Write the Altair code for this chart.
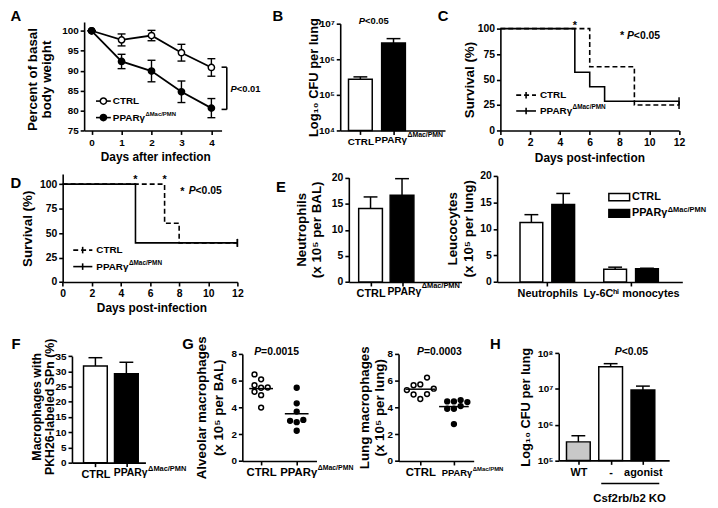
import altair as alt
import pandas as pd

FONT = "Liberation Sans"
W, H = 710, 500
M = 8

# ---------------- data ----------------
# A: body weight (% of basal)
a_days = [0, 1, 2, 3, 4]
a_ctrl = [100, 97.7, 98.8, 94.5, 90.8]
a_ctrl_sem = [0, 1.5, 1.3, 2.1, 2.2]
a_ppar = [100, 92.3, 89.9, 84.7, 80.6]
a_ppar_sem = [0, 1.8, 2.7, 2.7, 2.4]

# B: CFU per lung
b_cfu = [2.75e5, 2.85e6]
b_cfu_err = [0.45e5, 0.95e6]

# C: survival
c_ctrl_days = [0, 6, 9, 12]
c_ctrl_surv = [100, 62.5, 25, 25]
c_ppar_days = [0, 5, 6, 7, 12]
c_ppar_surv = [100, 57.1, 42.9, 28.6, 28.6]
c_star_days = [5]

# D: survival
d_ctrl_days = [0, 7, 8, 12]
d_ctrl_surv = [100, 60, 40, 40]
d_ppar_days = [0, 5, 12]
d_ppar_surv = [100, 40, 40]
d_star_days = [5, 7]

# E: neutrophils in BAL, leucocytes in lung
e1_vals = [14.1, 16.6]
e1_err = [2.2, 3.2]
e2_cats = ["Neutrophils", "Ly-6Cʰⁱ monocytes"]
e2_ctrl = [11.2, 2.4]
e2_ctrl_err = [1.5, 0.4]
e2_ppar = [14.6, 2.5]
e2_ppar_err = [2.1, 0.1]

# F: PKH26 labelled macrophages
f_vals = [31.8, 29.2]
f_err = [2.7, 3.8]

# G: individual mice
g1_ctrl = [6.47, 6.10, 5.66, 5.47, 5.49, 5.17, 4.92, 3.99]
g1_ctrl_slot = [-1, 0, -1, 0, 1, -1, 0, 0]
g1_ppar = [5.47, 4.31, 3.69, 3.0, 2.9, 3.07, 2.26]
g1_ppar_slot = [0, 0, 0, -1, 0, 1, 0]
g2_ctrl = [6.23, 5.66, 5.72, 5.3, 5.4, 4.97, 5.0, 4.63]
g2_ctrl_slot = [1, -1, 0, -2, 2, -1, 1, 0]
g2_ppar = [4.45, 4.45, 4.55, 4.4, 3.9, 3.9, 4.1, 2.76]
g2_ppar_slot = [-1, 0, 1, 2, -1, 0, 1, 0]

# H: CFU per lung
h_groups = ["WT", "-", "agonist"]
h_cfu = [3.3e5, 4.2e7, 9.4e6]
h_cfu_err = [1.6e5, 0.9e7, 2.6e6]

FILLS = {"CTRL": "white", "PPAR": "black"}
H_FILLS = ["#c8c8c8", "white", "black"]

ONE = pd.DataFrame({"k": [0]})
SUP = "['⁰','¹','²','³','⁴','⁵','⁶','⁷','⁸','⁹']"
LOG_LABEL = "'10' + " + SUP + "[round(log(datum.value) / LN10)]"
CTRL_ONLY = "datum.value == 0 ? 'CTRL' : ''"


def P(v):
    return v - M


def lin(d, r):
    return alt.Scale(type="linear", domain=list(d), range=[P(r[0]), P(r[1])], nice=False, zero=False)


def logsc(d, r):
    return alt.Scale(type="log", domain=list(d), range=[P(r[0]), P(r[1])], nice=False)


def yaxis(ax_x, vals, title, tcx, tcy, tsize=13.5, lh=15, lexpr=None, lsize=10):
    kw = dict(orient="left", offset=-P(ax_x), values=vals, title=title,
              titleX=tcx - ax_x, titleY=P(tcy), titleAngle=270, titleAlign="center",
              titleBaseline="middle", titleFontSize=tsize, titleLineHeight=lh,
              labelFontSize=lsize)
    if lexpr:
        kw["labelExpr"] = lexpr
    return alt.Axis(**kw)


def xaxis(ax_y, vals, title=None, tcx=0, tcy=0, tsize=12, lexpr=None, lsize=10, pad=2):
    kw = dict(orient="bottom", offset=P(ax_y) - H, values=vals, labelFontSize=lsize, labelPadding=pad)
    if title:
        kw.update(title=title, titleX=P(tcx), titleY=tcy - ax_y, titleAlign="center",
                  titleBaseline="middle", titleFontSize=tsize)
    else:
        kw["title"] = None
    if lexpr:
        kw["labelExpr"] = lexpr
    return alt.Axis(**kw)


class Panel:
    def __init__(self, sx, sy, ax, ay):
        self.sx, self.sy, self.ax, self.ay = sx, sy, ax, ay

    def x(self, f):
        return alt.X(f, type="quantitative", scale=self.sx, axis=self.ax)

    def y(self, f):
        return alt.Y(f, type="quantitative", scale=self.sy, axis=self.ay)


def txt(s, x, y, size=11, style="normal", align="left", baseline="middle"):
    return alt.Chart(ONE).mark_text(text=s, font=FONT, fontSize=size, fontWeight="bold",
                                    fontStyle=style, align=align, baseline=baseline,
                                    color="black").encode(x=alt.value(P(x)), y=alt.value(P(y)))


def ppar(x, y, size=10, sup=6.5, rise=3.5):
    return [txt("PPARγ", x, y, size), txt("ΔMac/PMN", x + 3.3 * size, y - rise, sup)]


def pval(x, y, rest, size=10.5):
    return [txt("P", x, y, size, style="italic"), txt(rest, x + 0.667 * size, y, size)]


def hrule(x0, x1, y, dash=None, w=1.6):
    kw = dict(color="black", strokeWidth=w)
    if dash:
        kw["strokeDash"] = dash
    return alt.Chart(ONE).mark_rule(**kw).encode(x=alt.value(P(x0)), x2=alt.value(P(x1)), y=alt.value(P(y)))


def vrule(x, y0, y1, w=1.6):
    return alt.Chart(ONE).mark_rule(color="black", strokeWidth=w).encode(
        x=alt.value(P(x)), y=alt.value(P(y0)), y2=alt.value(P(y1)))


def dot(x, y, fill, size=40):
    return alt.Chart(ONE).mark_point(shape="circle", filled=True, fill=fill, stroke="black",
                                     strokeWidth=1.5, size=size, opacity=1).encode(
        x=alt.value(P(x)), y=alt.value(P(y)))


def box(x0, x1, y0, y1, fill):
    return alt.Chart(ONE).mark_rect(fill=fill, stroke="black", strokeWidth=1.5).encode(
        x=alt.value(P(x0)), x2=alt.value(P(x1)), y=alt.value(P(y0)), y2=alt.value(P(y1)))


def bar_layers(pn, xs, vals, errs, fills, base, bar=24, cap=14):
    df = pd.DataFrame({"x": xs, "val": vals, "top": [v + e for v, e in zip(vals, errs)],
                       "base": [base] * len(vals), "fill": fills})
    c = alt.Chart(df)
    return [
        c.mark_bar(size=bar, stroke="black", strokeWidth=1.5).encode(
            x=pn.x("x"), y=pn.y("base"), y2="val:Q", fill=alt.Fill("fill:N", scale=None)),
        c.mark_rule(color="black", strokeWidth=1.5).encode(x=pn.x("x"), y=pn.y("val"), y2="top:Q"),
        c.mark_tick(orient="horizontal", size=cap, thickness=1.5, color="black", opacity=1).encode(
            x=pn.x("x"), y=pn.y("top")),
    ]


def surv_layers(pn, cd, cs, pd_, ps, stars, star_y):
    dc = pd.DataFrame({"day": cd, "surv": cs})
    dp = pd.DataFrame({"day": pd_, "surv": ps})
    ends = pd.DataFrame({"day": [cd[-1], pd_[-1]], "surv": [cs[-1], ps[-1]]})
    ds = pd.DataFrame({"day": stars})
    return [
        alt.Chart(dp).mark_line(interpolate="step-after", color="black", strokeWidth=1.6).encode(
            x=pn.x("day"), y=pn.y("surv")),
        alt.Chart(dc).mark_line(interpolate="step-after", color="black", strokeWidth=1.6,
                                strokeDash=[5, 3]).encode(x=pn.x("day"), y=pn.y("surv")),
        alt.Chart(ends).mark_tick(orient="vertical", size=8, thickness=1.5, color="black", opacity=1).encode(
            x=pn.x("day"), y=pn.y("surv")),
        alt.Chart(ds).mark_text(text="*", font=FONT, fontSize=11, fontWeight="bold", align="center",
                                baseline="alphabetic", color="black").encode(
            x=pn.x("day"), y=alt.value(P(star_y))),
    ]


def scatter_layers(pn, ctrl, cslot, ppar_, pslot, unit, mean_w):
    rows = []
    for i, (vals, slots, g) in enumerate(((ctrl, cslot, "CTRL"), (ppar_, pslot, "PPAR"))):
        for v, s in zip(vals, slots):
            rows.append({"grp": i, "xj": i + s * unit, "val": v, "fill": FILLS[g]})
    c = alt.Chart(pd.DataFrame(rows))
    return [
        c.mark_point(shape="circle", filled=True, size=24, stroke="black", strokeWidth=1.5, opacity=1).encode(
            x=pn.x("xj"), y=pn.y("val"), fill=alt.Fill("fill:N", scale=None)),
        c.mark_tick(orient="horizontal", size=mean_w, thickness=1.5, color="black", opacity=1).encode(
            x=pn.x("grp"), y=pn.y("mean(val)")),
    ]


layers = []

# ---------------- A ----------------
pa = Panel(lin((-0.25, 4.34), (85, 224)), lin((75, 102.2), (129, 19.3)),
           xaxis(129, a_days, "Days after infection", 157, 155.7, pad=3),
           yaxis(85, [75, 80, 85, 90, 95, 100], ["Percent of basal", "body weight"], 33, 77, lh=14))
rows = []
for g, m, s in (("CTRL", a_ctrl, a_ctrl_sem), ("PPAR", a_ppar, a_ppar_sem)):
    for d, mv, sv in zip(a_days, m, s):
        rows.append({"day": d, "grp": g, "mean": mv, "lo": mv - sv, "hi": mv + sv, "fill": FILLS[g]})
ca = alt.Chart(pd.DataFrame(rows))
layers.append(alt.layer(
    ca.mark_line(color="black", strokeWidth=1.8).encode(x=pa.x("day"), y=pa.y("mean"), detail="grp:N"),
    ca.mark_rule(color="black", strokeWidth=1.4).encode(x=pa.x("day"), y=pa.y("lo"), y2="hi:Q"),
    ca.mark_tick(orient="horizontal", size=8, thickness=1.4, color="black", opacity=1).encode(
        x=pa.x("day"), y=pa.y("lo")),
    ca.mark_tick(orient="horizontal", size=8, thickness=1.4, color="black", opacity=1).encode(
        x=pa.x("day"), y=pa.y("hi")),
    ca.mark_point(shape="circle", filled=True, size=40, stroke="black", strokeWidth=1.5, opacity=1).encode(
        x=pa.x("day"), y=pa.y("mean"), fill=alt.Fill("fill:N", scale=None)),
))
layers += [hrule(97, 112, 99.3), dot(104.5, 99.3, "white"), txt("CTRL", 114, 99.3, 10),
           hrule(97, 112, 116), dot(104.5, 116, "black")] + ppar(114, 116, 10, 6, 3.5)
layers += [vrule(229.3, 65, 107.7), hrule(224, 229.3, 65), hrule(224, 229.3, 107.7)]
layers += pval(233, 87, "<0.01", 9.5)
layers.append(txt("A", 16, 13, 15, align="center"))

# ---------------- B ----------------
pb = Panel(lin((-0.459, 2.405), (344, 450)), logsc((1e4, 1e7), (129, 21)),
           xaxis(129, [0, 1], lexpr=CTRL_ONLY, lsize=10),
           yaxis(344, [1e4, 1e5, 1e6, 1e7], "Log₁₀ CFU per lung", 317, 75, tsize=13, lexpr=LOG_LABEL))
layers.append(alt.layer(*bar_layers(pb, [0, 1], b_cfu, b_cfu_err, ["white", "black"], 1e4)))
layers += ppar(379, 138.3, 10, 7, 5)
layers += pval(362.7, 18.3, "<0.05", 9.5)
layers.append(txt("B", 281, 13, 15, align="center"))

# ---------------- C ----------------
pc = Panel(lin((0, 12), (506, 686.7)), lin((0, 100), (129, 26)),
           xaxis(129, list(range(0, 13, 2)), "Days post-infection", 596, 156.7, lsize=10.5, pad=3),
           yaxis(506, [0, 25, 50, 75, 100], "Survival (%)", 475, 77.5, lsize=10.5))
layers.append(alt.layer(*surv_layers(pc, c_ctrl_days, c_ctrl_surv, c_ppar_days, c_ppar_surv,
                                     c_star_days, 26.4)))
layers += [hrule(522, 542, 93.3, dash=[5, 3]), vrule(532, 90, 96.6), txt("CTRL", 546, 93.3, 10),
           hrule(522, 542, 109.3), vrule(532, 106, 112.6)] + ppar(546, 109.3, 10, 6.5, 3.5)
layers.append(txt("*", 629, 36.4, 11, align="center", baseline="alphabetic"))
layers += pval(634, 33.3, "<0.05", 10.5)
layers.append(txt("C", 448, 13, 15, align="center"))

# ---------------- D ----------------
pdd = Panel(lin((0, 12), (63.3, 240)), lin((0, 110.4), (282.3, 173)),
            xaxis(282.3, list(range(0, 13, 2)), "Days post-infection", 153, 308, lsize=10.5, pad=3),
            yaxis(63.3, [0, 25, 50, 75, 100], "Survival (%)", 28, 228, lsize=10.5))
layers.append(alt.layer(*surv_layers(pdd, d_ctrl_days, d_ctrl_surv, d_ppar_days, d_ppar_surv,
                                     d_star_days, 182.4)))
layers += [hrule(74, 93.3, 250, dash=[5, 3]), vrule(83.5, 246.7, 253.3), txt("CTRL", 97.3, 250, 10),
           hrule(74, 93.3, 266.7), vrule(83.5, 263.4, 270)] + ppar(97.3, 266.7, 10, 6.5, 3.5)
layers.append(txt("*", 184.3, 194, 11, align="center", baseline="alphabetic"))
layers += pval(190.7, 190.7, "<0.05", 10.5)
layers.append(txt("D", 16, 182.5, 15, align="center"))

# ---------------- E (left) ----------------
pe1 = Panel(lin((-0.533, 2.733), (352.7, 466.7)), lin((0, 20), (282.3, 176.7)),
            xaxis(282.3, [0, 1], lexpr=CTRL_ONLY, lsize=11),
            yaxis(352.7, [0, 5, 10, 15, 20], ["Neutrophils", "(x 10⁵ per BAL)"], 305, 229,
                  lh=15, lsize=10.5))
layers.append(alt.layer(*bar_layers(pe1, [0, 1], e1_vals, e1_err, ["white", "black"], 0)))
layers += ppar(391.7, 292, 10.5, 7.5, 6)
layers.append(txt("E", 284, 186, 15, align="center"))

# ---------------- E (right) ----------------
pe2 = Panel(lin((-0.54, 1.553), (502.7, 690)), lin((0, 20), (282.3, 175)),
            xaxis(282.3, [0, 1], lexpr="['Neutrophils', 'Ly-6Cʰⁱ monocytes'][datum.value]", lsize=11),
            yaxis(502.7, [0, 5, 10, 15, 20], ["Leucocytes", "(x 10⁵ per lung)"], 458, 228,
                  lh=16, lsize=10.5))
e2x, e2v, e2e, e2f = [], [], [], []
for i in range(len(e2_cats)):
    for off, vals, errs, g in ((-0.19, e2_ctrl, e2_ctrl_err, "CTRL"), (0.19, e2_ppar, e2_ppar_err, "PPAR")):
        e2x.append(i + off)
        e2v.append(vals[i])
        e2e.append(errs[i])
        e2f.append(FILLS[g])
layers.append(alt.layer(*bar_layers(pe2, e2x, e2v, e2e, e2f, 0, bar=23)))
layers += [box(615.7, 636.7, 192.7, 200, "white"), txt("CTRL", 639, 196.5, 11),
           box(615.7, 636.7, 209, 216.7, "black")] + ppar(639, 213, 11, 7.5, 4)

# ---------------- F ----------------
pf = Panel(lin((-0.597, 1.456), (72.7, 147)), lin((0, 35), (465, 357.3)),
           xaxis(465, [0, 1], lexpr=CTRL_ONLY, lsize=11),
           yaxis(72.7, [0, 5, 10, 15, 20, 25, 30, 35], ["Macrophages with", "PKH26-labeled SPn (%)"],
                 36.7, 408, tsize=12.5, lh=13.5))
layers.append(alt.layer(*bar_layers(pf, [0, 1], f_vals, f_err, ["white", "black"], 0)))
layers += ppar(115, 475, 10.5, 7.5, 4)
layers.append(txt("F", 16, 345, 15, align="center"))

# ---------------- G (left) ----------------
pg1 = Panel(lin((-0.528, 1.556), (245, 320)), lin((0, 8), (463.3, 355)),
            xaxis(463.3, [0, 1], lexpr=CTRL_ONLY, lsize=11.5),
            yaxis(245, [0, 2, 4, 6, 8], ["Alveolar macrophages", "(x 10⁵ per BAL)"], 203.3, 409, lh=18))
layers.append(alt.layer(*scatter_layers(pg1, g1_ctrl, g1_ctrl_slot, g1_ppar, g1_ppar_slot, 0.186, 24)))
layers += ppar(283.3, 475, 11.5, 7, 4.5)
layers += pval(257, 352.7, "=0.0015", 10.5)
layers.append(txt("G", 190, 345, 15, align="center"))

# ---------------- G (right) ----------------
pg2 = Panel(lin((-0.647, 1.588), (403, 479)), lin((0, 8), (463.3, 355)),
            xaxis(463.3, [0, 1], lexpr=CTRL_ONLY, lsize=11.5),
            yaxis(403, [0, 2, 4, 6, 8], ["Lung macrophages", "(x 10⁵ per lung)"], 368.3, 409, lh=15))
layers.append(alt.layer(*scatter_layers(pg2, g2_ctrl, g2_ctrl_slot, g2_ppar, g2_ppar_slot, 0.2, 30)))
layers += ppar(446.7, 475, 9.5, 6, 4)
layers += pval(421.7, 352.7, "=0.0003", 10.5)

# ---------------- H ----------------
ph = Panel(lin((-0.455, 2.66), (565, 676.7)), logsc((1e5, 1e8), (462.7, 354.3)),
           xaxis(462.7, [0, 1, 2], lexpr="['WT', '-', 'agonist'][datum.value]", lsize=11),
           yaxis(565, [1e5, 1e6, 1e7, 1e8], "Log₁₀ CFU per lung", 531.7, 408.5, tsize=13, lexpr=LOG_LABEL))
layers.append(alt.layer(*bar_layers(ph, [0, 1, 2], h_cfu, h_cfu_err, H_FILLS, 1e5)))
layers += [hrule(608, 666.7, 486, w=1.5), txt("Csf2rb/b2 KO", 636.7, 502, 11.5, align="center")]
layers += pval(621.7, 353.3, "<0.05", 10.5)
layers.append(txt("H", 501, 345, 15, align="center"))

chart = alt.layer(*layers).resolve_scale(x="independent", y="independent").properties(
    width=W, height=H, padding=0, autosize=alt.AutoSizeParams(type="none"), background="white"
).configure_view(stroke=None).configure_axis(
    domainColor="black", domainWidth=1.6, tickColor="black", tickWidth=1.6, tickSize=4,
    labelColor="black", labelFont=FONT, labelFontWeight="bold", labelFontSize=10, labelPadding=2,
    labelFlush=False, labelOverlap=False,
    titleFont=FONT, titleFontWeight="bold", titleColor="black", grid=False,
)

chart.save("out.html", embed_options={"renderer": "svg", "actions": False})
